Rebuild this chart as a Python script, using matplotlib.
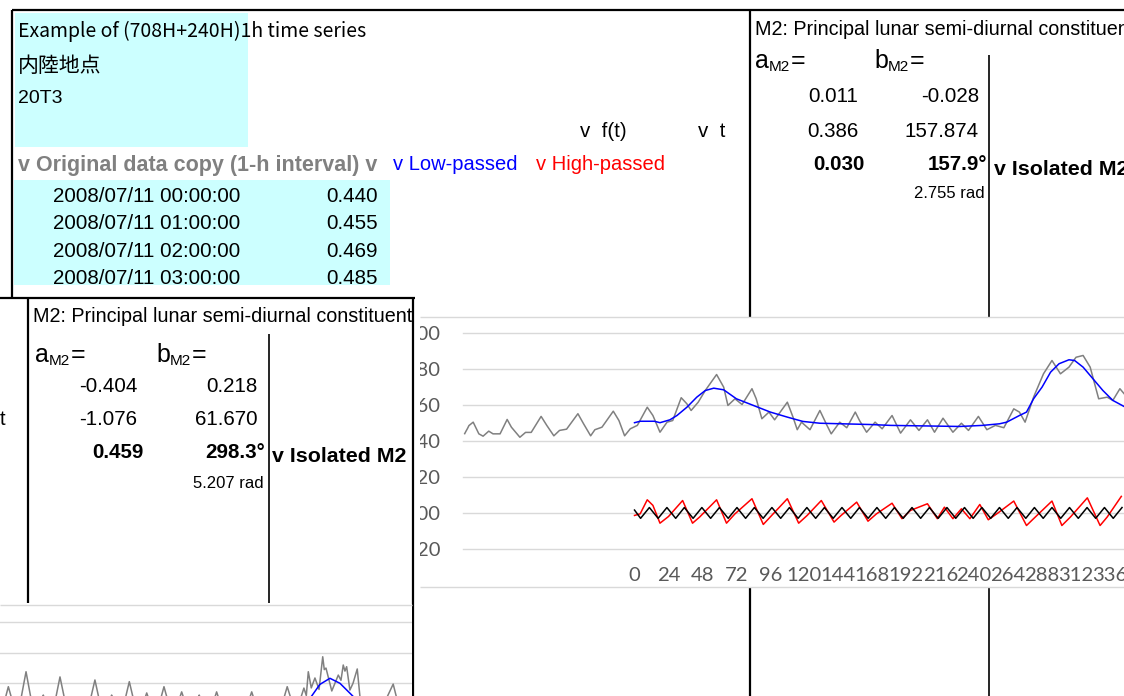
import matplotlib.pyplot as plt
from matplotlib.patches import Rectangle

W, H = 1124, 696

# ---- main chart: original 1-h series (gray), hours relative to the analysis start
orig_t = [-120, -119, -118, -117, -114, -110, -107, -103, -100, -95, -90, -87, -81, -77, -73,
          -66, -62, -57, -53, -48, -40, -36, -31, -28, -23, -15, -11, -7, -3, 2, 9, 13, 18,
          23, 27, 33, 37, 40, 45, 50, 58, 63, 66, 71, 76, 83, 86, 90, 95, 99, 108, 112, 115,
          118, 124, 131, 136, 139, 145, 150, 156, 159, 164, 170, 175, 182, 188, 195, 201,
          207, 212, 218, 225, 231, 236, 243, 249, 255, 261, 268, 272, 276, 282, 289, 295,
          301, 307, 312, 317, 322, 328, 334, 338, 343, 346]
orig_v = [0.440, 0.455, 0.469, 0.485, 0.504, 0.439, 0.426, 0.454, 0.439, 0.439, 0.519, 0.476,
          0.420, 0.447, 0.447, 0.536, 0.486, 0.428, 0.458, 0.465, 0.551, 0.495, 0.428, 0.462,
          0.476, 0.565, 0.513, 0.428, 0.467, 0.486, 0.587, 0.541, 0.448, 0.504, 0.513, 0.640,
          0.606, 0.569, 0.615, 0.680, 0.769, 0.699, 0.597, 0.634, 0.602, 0.690, 0.634, 0.523,
          0.560, 0.517, 0.615, 0.532, 0.462, 0.504, 0.462, 0.569, 0.486, 0.439, 0.504, 0.473,
          0.560, 0.513, 0.448, 0.504, 0.467, 0.541, 0.443, 0.517, 0.458, 0.517, 0.448, 0.526,
          0.448, 0.498, 0.458, 0.536, 0.462, 0.486, 0.473, 0.578, 0.560, 0.504, 0.643, 0.773,
          0.847, 0.773, 0.810, 0.865, 0.875, 0.810, 0.634, 0.643, 0.625, 0.690, 0.662]

# low-passed (blue)
low_t = [0, 4, 14, 18, 25, 30, 37, 44, 50, 56, 63, 72, 84, 96, 108, 119, 131, 166, 181, 230,
         246, 258, 263, 272, 277, 282, 288, 294, 300, 307, 311, 317, 324, 331, 338, 346]
low_v = [0.501, 0.509, 0.509, 0.501, 0.517, 0.541, 0.587, 0.643, 0.680, 0.693, 0.684, 0.634,
         0.597, 0.560, 0.532, 0.508, 0.498, 0.491, 0.486, 0.480, 0.486, 0.495, 0.504, 0.541,
         0.560, 0.634, 0.699, 0.782, 0.829, 0.851, 0.847, 0.810, 0.745, 0.680, 0.625, 0.591]

# high-passed (red)
high_t = [0, 4, 9, 13, 18, 24, 34, 41, 46, 58, 65, 71, 83, 91, 98, 108, 116, 122, 132, 141,
          146, 157, 165, 171, 182, 189, 195, 207, 214, 219, 225, 231, 237, 244, 250, 256, 268,
          277, 282, 295, 302, 308, 320, 329, 334, 344]
high_v = [-0.015, -0.006, 0.072, 0.041, -0.058, -0.021, 0.068, -0.058, -0.024, 0.072, -0.058,
          -0.006, 0.078, -0.065, -0.006, 0.078, -0.058, -0.015, 0.068, -0.052, -0.015, 0.059,
          -0.047, -0.006, 0.053, -0.033, 0.013, 0.050, -0.033, 0.031, -0.033, 0.022, -0.033,
          0.046, -0.039, -0.006, 0.065, -0.071, -0.033, 0.065, -0.071, -0.024, 0.083, -0.071,
          -0.024, 0.091]

# isolated M2 (black): turning points
m2_t = [0, 4.3, 10.5, 16.7, 22.9, 29.1, 35.2, 41.4, 47.6, 53.8, 60.0, 66.2, 72.4, 78.5, 84.7,
        90.9, 97.1, 103.3, 109.5, 115.6, 121.8, 128.0, 134.2, 140.4, 146.6, 152.8, 158.9,
        165.1, 171.3, 177.5, 183.7, 189.9, 196.1, 202.2, 208.4, 214.6, 220.8, 227.0, 233.2,
        239.3, 245.5, 251.7, 257.9, 264.1, 270.3, 276.5, 282.6, 288.8, 295.0, 301.2, 307.4,
        313.6, 319.8, 325.9, 332.1, 338.3, 344.5]
m2_v = [0.015, -0.031, 0.029, -0.031, 0.029, -0.031, 0.029, -0.031, 0.029, -0.031, 0.029,
        -0.031, 0.029, -0.031, 0.029, -0.031, 0.029, -0.031, 0.029, -0.031, 0.029, -0.031,
        0.029, -0.031, 0.029, -0.031, 0.029, -0.031, 0.029, -0.031, 0.029, -0.031, 0.029,
        -0.031, 0.029, -0.031, 0.029, -0.031, 0.029, -0.031, 0.029, -0.031, 0.029, -0.031,
        0.029, -0.031, 0.029, -0.031, 0.029, -0.031, 0.029, -0.031, 0.029, -0.031, 0.029,
        -0.031, 0.029]

x_ticks = [0, 24, 48, 72, 96, 120, 144, 168, 192, 216, 240, 264, 288, 312, 336]
y_ticks = [-0.2, 0.0, 0.2, 0.4, 0.6, 0.8, 1.0]
y_labels = ['-0.20', '0.00', '0.20', '0.40', '0.60', '0.80', '1.00']

# ---- second (lower-left) window: part of another chart
sub_t = [0, 5.9, 12.2, 18.4, 24.5, 30.6, 36.5, 42.4, 48.5, 54.6, 60.8, 67.1, 73.0, 78.9,
         85.2, 91.4, 97.5, 103.7, 109.8, 115.9, 122.1, 128.4, 134.6, 140.8, 147.0, 153.1,
         159.2, 165.4, 171.6, 177.9, 184.0, 190.1, 196.5, 203.0, 209.0, 214.8, 216.5, 217.9,
         220.0, 222.6, 225.5, 228.1, 229.2, 230.4, 234.5, 239.1, 241.0, 242.6, 243.8, 245.0,
         247.3, 249.5, 252.5, 255.6, 266.5, 277.9, 284.0, 292.0]
sub_v = [-0.03, 0.178, -0.03, 0.276, -0.03, 0.123, -0.03, 0.242, -0.03, 0.06, -0.03, 0.222,
         -0.03, 0.123, -0.03, 0.211, -0.03, 0.137, -0.03, 0.178, -0.03, 0.144, -0.03, 0.123,
         -0.03, 0.144, -0.03, 0.06, -0.03, 0.144, -0.03, 0.06, -0.03, 0.178, 0.0, 0.169, 0.12,
         0.276, 0.17, 0.235, 0.16, 0.374, 0.29, 0.300, 0.15, 0.254, 0.22, 0.320, 0.28, 0.309,
         0.156, 0.20, 0.294, 0.0, -0.03, 0.195, -0.03, 0.05]
sub_low_t = [215, 220.3, 226.1, 233.2, 240.3, 249.3, 255]
sub_low_v = [0.05, 0.117, 0.193, 0.233, 0.200, 0.117, 0.05]
sub_grid = [0.2, 0.4, 0.6]

CYAN = '#ccffff'
GRID = '#d9d9d9'
TICK = '#595959'
CELL = 14.8

plt.rcParams['font.family'] = ['Liberation Sans', 'Noto Sans CJK JP', 'DejaVu Sans']

fig = plt.figure(figsize=(W / 100, H / 100), dpi=100)


def frame(x0, y0, x1, y1):
    return [x0 / W, 1 - y1 / H, (x1 - x0) / W, (y1 - y0) / H]


def sheet(z):
    ax = fig.add_axes([0, 0, 1, 1], zorder=z)
    ax.set_xlim(0, W)
    ax.set_ylim(H, 0)
    ax.axis('off')
    return ax


def vline(ax, x, y0, y1, lw=1.6, color='k', z=3):
    ax.plot([x, x], [y0, y1], color=color, lw=lw, solid_capstyle='butt', zorder=z)


def hline(ax, y, x0, x1, lw=1.6, color='k', z=3):
    ax.plot([x0, x1], [y, y], color=color, lw=lw, solid_capstyle='butt', zorder=z)


def aM2(ax, x, y, letter):
    ax.text(x, y, letter, fontsize=18, va='baseline')
    ax.text(x + 14, y + 3, 'M2', fontsize=11, va='baseline')
    ax.text(x + 36, y, '=', fontsize=18, va='baseline')


# ================= upper sheet =================
up = sheet(0)
up.add_patch(Rectangle((15, 13), 233, 134, color=CYAN, lw=0, zorder=1))
up.add_patch(Rectangle((14, 180), 376, 105, color=CYAN, lw=0, zorder=1))
hline(up, 10, 12, W)
vline(up, 12, 10, 297)
vline(up, 750, 10, H)
vline(up, 989, 55, H, lw=1.2)

up.text(18, 37.3, 'Example of (708H+240H)1h time series', fontsize=14,
        family=['Noto Sans CJK JP', 'DejaVu Sans'], va='baseline', zorder=4)
up.text(18, 72, '内陸地点', fontsize=15, family=['Noto Sans CJK JP', 'DejaVu Sans'],
        va='baseline', zorder=4)
up.text(18, 103.3, '20T3', fontsize=14, va='baseline', zorder=4)
up.text(580, 136.7, 'v  f(t)', fontsize=CELL, va='baseline', zorder=4)
up.text(698, 136.7, 'v  t', fontsize=CELL, va='baseline', zorder=4)
up.text(18, 170.5, 'v Original data copy (1-h interval) v', fontsize=15.5, weight='bold',
        color='#808080', va='baseline', zorder=4)
up.text(393, 170.5, 'v Low-passed', fontsize=14.5, color='#0000ff', va='baseline', zorder=4)
up.text(536, 170.5, 'v High-passed', fontsize=14.5, color='#ff0000', va='baseline', zorder=4)
dates = ['2008/07/11 00:00:00', '2008/07/11 01:00:00', '2008/07/11 02:00:00',
         '2008/07/11 03:00:00']
for i, d in enumerate(dates):
    yb = 201.7 + 27.5 * i
    up.text(53, yb, d, fontsize=CELL, va='baseline', zorder=4)
    up.text(378, yb, '%.3f' % orig_v[i], fontsize=CELL, ha='right', va='baseline', zorder=4)

up.text(755, 35, 'M2: Principal lunar semi-diurnal constituent', fontsize=14.2,
        va='baseline', zorder=4)
aM2(up, 755, 68.3, 'a')
aM2(up, 874, 68.3, 'b')
up.text(858, 101.7, '0.011', fontsize=CELL, ha='right', va='baseline', zorder=4)
up.text(979, 101.7, '-0.028', fontsize=CELL, ha='right', va='baseline', zorder=4)
up.text(858, 136.7, '0.386', fontsize=CELL, ha='right', va='baseline', zorder=4)
up.text(979, 136.7, '157.874', fontsize=CELL, ha='right', va='baseline', zorder=4)
up.text(865, 170, '0.030', fontsize=CELL, weight='bold', ha='right', va='baseline', zorder=4)
up.text(987, 170, '157.9°', fontsize=CELL, weight='bold', ha='right', va='baseline', zorder=4)
up.text(985, 198.3, '2.755 rad', fontsize=12, ha='right', va='baseline', zorder=4)
up.text(993.5, 175, 'v Isolated M2', fontsize=15.4, weight='bold', va='baseline', zorder=4)

# chart object hides the sheet behind it
up.add_patch(Rectangle((420, 316.5), W - 420, 271, color='white', lw=0, zorder=8))
hline(up, 316.7, 420, W, lw=1.0, color=GRID, z=9)
hline(up, 587.3, 420, W, lw=1.0, color=GRID, z=9)

# ================= main chart =================
ax = fig.add_axes(frame(463, 333, W, 548.7), zorder=1)
ax.set_facecolor('none')
for s in ax.spines.values():
    s.set_visible(False)
ax.set_xlim(-121.2, 345.9)
ax.set_ylim(-0.2, 1.0)
for v in y_ticks:
    ax.axhline(v, color=GRID, lw=1.0, zorder=0, clip_on=False)
ax.plot(orig_t, orig_v, color='#808080', lw=1.1, zorder=2)
ax.plot(low_t, low_v, color='#0000ff', lw=1.1, zorder=3)
ax.plot(high_t, high_v, color='#ff0000', lw=1.1, zorder=3)
ax.plot(m2_t, m2_v, color='black', lw=1.1, zorder=4)
ax.set_xticks(x_ticks)
ax.set_xticklabels([str(x) for x in x_ticks])
ax.set_yticks(y_ticks)
ax.set_yticklabels(y_labels)
ax.tick_params(axis='both', length=0, labelsize=14.6, labelcolor=TICK)
ax.tick_params(axis='x', pad=13)
ax.tick_params(axis='y', pad=16)
for lab in ax.get_xticklabels() + ax.get_yticklabels():
    lab.set_fontfamily('Lato')

# ================= lower-left window =================
lo = sheet(2)
lo.add_patch(Rectangle((0, 297), 420, H - 297, color='white', lw=0, zorder=1))
hline(lo, 298, 0, 415)
vline(lo, 413, 297, H)
vline(lo, 28.3, 297, 603)
vline(lo, 268.7, 334.3, 603, lw=1.2)
lo.text(33, 321.7, 'M2: Principal lunar semi-diurnal constituent', fontsize=14.2,
        va='baseline', zorder=4)
aM2(lo, 35, 361.7, 'a')
aM2(lo, 156, 361.7, 'b')
lo.text(5, 425, 't', fontsize=CELL, ha='right', va='baseline', zorder=4)
lo.text(137.3, 391.7, '-0.404', fontsize=CELL, ha='right', va='baseline', zorder=4)
lo.text(257.7, 391.7, '0.218', fontsize=CELL, ha='right', va='baseline', zorder=4)
lo.text(137.3, 425, '-1.076', fontsize=CELL, ha='right', va='baseline', zorder=4)
lo.text(257.7, 425, '61.670', fontsize=CELL, ha='right', va='baseline', zorder=4)
lo.text(144, 458.3, '0.459', fontsize=CELL, weight='bold', ha='right', va='baseline', zorder=4)
lo.text(265, 458.3, '298.3°', fontsize=CELL, weight='bold', ha='right', va='baseline', zorder=4)
lo.text(264, 487.7, '5.207 rad', fontsize=12, ha='right', va='baseline', zorder=4)
lo.text(272.5, 461.7, 'v Isolated M2', fontsize=15.4, weight='bold', va='baseline', zorder=4)
lo.add_patch(Rectangle((0, 604), 412, H - 604, color='white', lw=0, zorder=8))
hline(lo, 605, 0, 412, lw=1.0, color=GRID, z=9)

ax2 = fig.add_axes(frame(0, 605, 412, H), zorder=3)
ax2.set_facecolor('none')
ax2.axis('off')
ax2.set_xlim(0, 291.2)
ax2.set_ylim(0.117, 0.713)
for v in sub_grid:
    ax2.axhline(v, color=GRID, lw=1.0, zorder=0)
ax2.plot(sub_t, sub_v, color='#808080', lw=1.1, zorder=2)
ax2.plot(sub_low_t, sub_low_v, color='#0000ff', lw=1.1, zorder=3)

fig.savefig('out.png', dpi=100)
